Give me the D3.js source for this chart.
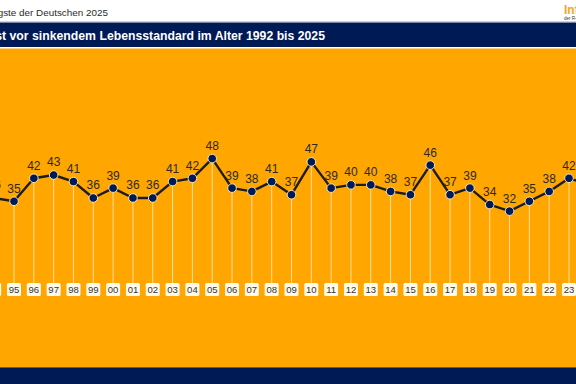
<!DOCTYPE html>
<html>
<head>
<meta charset="utf-8">
<script src="https://cdn.jsdelivr.net/npm/d3@7"></script>
<style>
  html, body { margin: 0; padding: 0; background: #fff; }
  svg { display: block; font-family: Arial, "Liberation Sans", sans-serif; }
</style>
</head>
<body>
<div id="chart"></div>
<script>
// Angst vor sinkendem Lebensstandard im Alter (in %), visible part of the series
const years  = [1994, 1995, 1996, 1997, 1998, 1999, 2000, 2001, 2002, 2003, 2004,
                2005, 2006, 2007, 2008, 2009, 2010, 2011, 2012, 2013, 2014, 2015,
                2016, 2017, 2018, 2019, 2020, 2021, 2022, 2023, 2024];
const labels = ['94', '95', '96', '97', '98', '99', '00', '01', '02', '03', '04',
                '05', '06', '07', '08', '09', '10', '11', '12', '13', '14', '15',
                '16', '17', '18', '19', '20', '21', '22', '23', '24'];
const values = [36, 35, 42, 43, 41, 36, 39, 36, 36, 41, 42,
                48, 39, 38, 41, 37, 47, 39, 40, 40, 38, 37,
                46, 37, 39, 34, 32, 35, 38, 42, 40];

const header = 'Die Ängste der Deutschen 2025';
const title  = 'Angst vor sinkendem Lebensstandard im Alter 1992 bis 2025';

const W = 576, H = 384;
const ORANGE = '#ffa600', NAVY = '#001a56';

const svg = d3.select('#chart').append('svg').attr('width', W).attr('height', H);

// background bands
svg.append('rect').attr('width', W).attr('height', H).attr('fill', '#fff');
svg.append('rect').attr('x', 0).attr('y', 21).attr('width', W).attr('height', 1.2).attr('fill', '#c9d3e6');
svg.append('rect').attr('x', 0).attr('y', 22.5).attr('width', W).attr('height', 24.5).attr('fill', NAVY);
svg.append('rect').attr('x', 0).attr('y', 48.5).attr('width', W).attr('height', 319).attr('fill', ORANGE);
svg.append('rect').attr('x', 0).attr('y', 367).attr('width', W).attr('height', 1).attr('fill', '#6b5a2a');
svg.append('rect').attr('x', 0).attr('y', 368).attr('width', W).attr('height', 16).attr('fill', NAVY);

// header texts (chart is cut off at the left edge)
svg.append('text').attr('x', 108).attr('y', 16).attr('text-anchor', 'end')
  .attr('font-size', 9.9).attr('fill', '#2b2b2b').text(header);
svg.append('text').attr('x', 325).attr('y', 39.5).attr('text-anchor', 'end')
  .attr('font-size', 12.25).attr('font-weight', 700).attr('fill', '#fff').text(title);

// logo, cut off at the right edge
svg.append('text').attr('x', 564).attr('y', 14).attr('font-size', 12).attr('font-weight', 700)
  .attr('fill', '#f5a623').text('Infocenter');
svg.append('text').attr('x', 564).attr('y', 19.5).attr('font-size', 4.5)
  .attr('fill', '#333').text('der R+V Versicherung');

// scales
const x = d3.scaleLinear().domain([1995, 2023]).range([14, 569]);
const y = d3.scaleLinear().domain([30, 50]).range([217.7, 152]);

const boxTop = 283, boxH = 13, boxW = 14;

const pts = years.map((yr, i) => ({ yr, lab: labels[i], v: values[i] }));

// drop lines
svg.append('g').selectAll('line').data(pts).join('line')
  .attr('x1', d => x(d.yr)).attr('x2', d => x(d.yr))
  .attr('y1', d => y(d.v)).attr('y2', boxTop)
  .attr('stroke', '#ffe6b0').attr('stroke-width', 0.9);

// year boxes
const tick = svg.append('g').selectAll('g').data(pts).join('g')
  .attr('transform', d => `translate(${x(d.yr)},${boxTop})`);
tick.append('rect')
  .attr('x', -boxW / 2).attr('y', 0).attr('width', boxW).attr('height', boxH)
  .attr('rx', 1.5).attr('fill', '#fffaeb');
tick.append('text')
  .attr('y', boxH / 2 + 3.3).attr('text-anchor', 'middle')
  .attr('font-size', 9.5).attr('fill', '#333').text(d => d.lab);

// line
svg.append('path').datum(pts)
  .attr('d', d3.line().x(d => x(d.yr)).y(d => y(d.v)))
  .attr('fill', 'none').attr('stroke', '#1c1c24').attr('stroke-width', 2.4)
  .attr('stroke-linejoin', 'round');

// markers
svg.append('g').selectAll('circle').data(pts).join('circle')
  .attr('cx', d => x(d.yr)).attr('cy', d => y(d.v)).attr('r', 4.3)
  .attr('fill', NAVY).attr('stroke', '#fff2cc').attr('stroke-width', 0.9);

// value labels
svg.append('g').selectAll('text').data(pts).join('text')
  .attr('x', d => x(d.yr)).attr('y', d => y(d.v) - 8.5)
  .attr('text-anchor', 'middle').attr('font-size', 12)
  .attr('fill', '#2e2a22').text(d => d.v);
</script>
</body>
</html>
